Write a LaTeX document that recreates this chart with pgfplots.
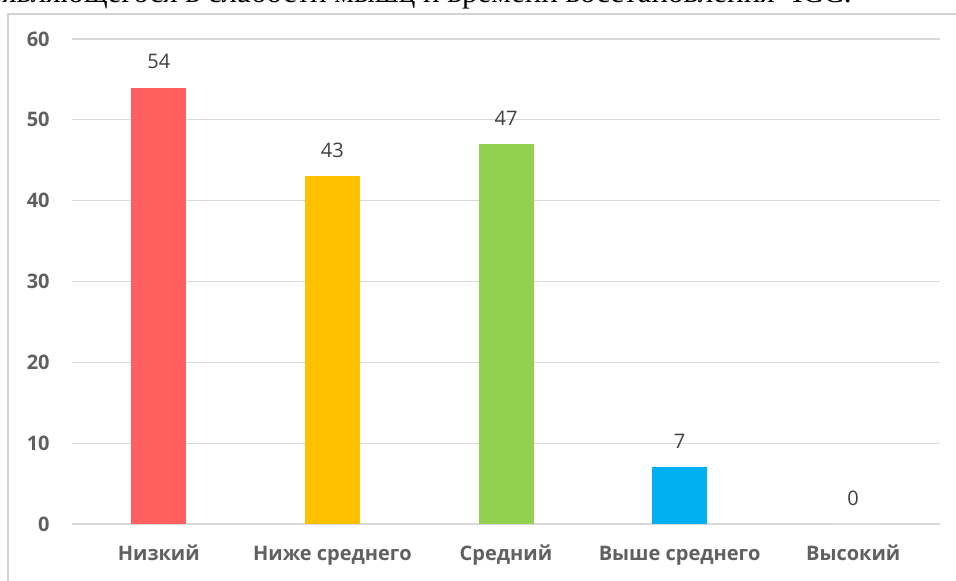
\documentclass[border=0pt]{standalone}
\usepackage{fontspec}
\setmainfont{Open Sans}
\newfontfamily\serifcyr{Liberation Serif}
\usepackage{pgfplots}
\pgfplotsset{compat=1.18}
\definecolor{cred}{RGB}{255,95,95}
\definecolor{corange}{RGB}{255,192,0}
\definecolor{cgreen}{RGB}{146,208,80}
\definecolor{cblue}{RGB}{0,176,240}
\definecolor{gridc}{RGB}{217,217,217}
\definecolor{tickc}{RGB}{96,96,96}
\definecolor{labc}{RGB}{64,64,64}
\begin{document}
\begin{tikzpicture}
\useasboundingbox (0,0) rectangle (478pt,290pt);
\clip (0,0) rectangle (478pt,290pt);
\fill[white] (0,0) rectangle (478pt,290pt);
\node[anchor=base east, inner sep=0pt, font=\serifcyr\fontsize{15.5}{18}\selectfont] at (426pt,288.5pt) {проявляющегося в слабости мышц и времени восстановления ЧСС.};
\draw[color=gray!35, line width=1pt] (4pt,-2pt) -- (4pt,283pt) -- (482pt,283pt);
\begin{axis}[
  at={(36pt,28pt)}, anchor=south west,
  scale only axis, width=434pt, height=242.5pt,
  xmin=-0.5, xmax=4.5, ymin=0, ymax=60,
  axis line style={draw=none},
  ytick={0,10,20,30,40,50,60},
  ymajorgrids, grid style={gridc, line width=0.6pt},
  xtick={0,1,2,3,4},
  xticklabels={Низкий, Ниже среднего, Средний, Выше среднего, Высокий},
  major tick length=0pt,
  tick style={draw=none},
  /pgf/number format/assume math mode=true,
  ticklabel style={font=\fontsize{10}{12}\selectfont\bfseries, text=tickc, inner sep=0pt},
  yticklabel style={anchor=east, xshift=-11pt},
  xticklabel style={anchor=base, yshift=-18pt},
  ybar, bar width=27.5pt, bar shift=0pt,
  nodes near coords,
  every node near coord/.append style={font=\fontsize{10}{12}\selectfont, text=labc, anchor=center, yshift=13pt, inner sep=0pt},
  clip=false,
]
\addplot[draw=none, fill=cred] coordinates {(0,54)};
\addplot[draw=none, fill=corange] coordinates {(1,43)};
\addplot[draw=none, fill=cgreen] coordinates {(2,47)};
\addplot[draw=none, fill=cblue] coordinates {(3,7)};
\addplot[draw=none, fill=white] coordinates {(4,0)};
\end{axis}
\end{tikzpicture}
\end{document}
